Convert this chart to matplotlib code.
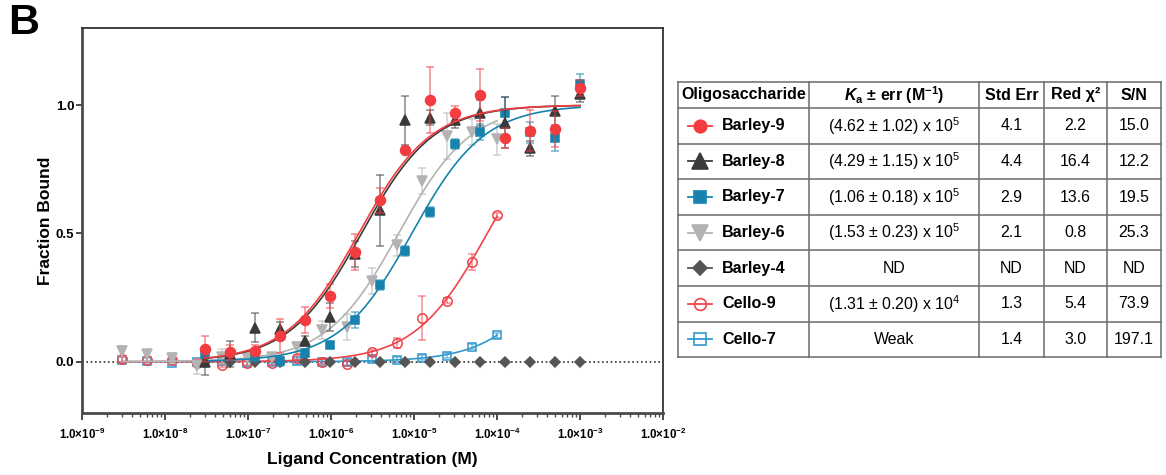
import numpy as np
import matplotlib
matplotlib.use("Agg")
import matplotlib.pyplot as plt

plt.rcParams['font.family'] = ['Liberation Sans', 'DejaVu Sans']
plt.rcParams['mathtext.fontset'] = 'custom'
plt.rcParams['mathtext.rm'] = 'Liberation Sans'
plt.rcParams['mathtext.it'] = 'Liberation Sans:italic'
plt.rcParams['mathtext.bf'] = 'Liberation Sans:bold'
plt.rcParams['mathtext.bfit'] = 'Liberation Sans:italic:bold'

# ---------------- data ----------------
# Barley-9/8/7/4 concentrations: 2-fold dilution from 1e-3 M (16 points)
conc_high = [1e-3 / 2 ** k for k in range(15, -1, -1)]
# Barley-6, Cello-9, Cello-7 concentrations: 2-fold dilution from 1e-4 M
conc_low = [1e-4 / 2 ** k for k in range(15, -1, -1)]

barley9 = [0.049, 0.036, 0.043, 0.10, 0.163, 0.256, 0.427, 0.628, 0.826, 1.019, 0.967, 1.039, 0.871, 0.899, 0.908, 1.067]
barley9_err = [0.05, 0.03, 0.02, 0.065, 0.05, 0.045, 0.07, 0.05, 0.01, 0.13, 0.03, 0.10, 0.04, 0.08, 0.07, 0.03]
barley8 = [-0.003, 0.03, 0.133, 0.126, 0.08, 0.175, 0.42, 0.589, 0.94, 0.951, 0.94, 0.97, 0.931, 0.831, 0.977, 1.041]
barley8_err = [0.05, 0.05, 0.057, 0.03, 0.02, 0.055, 0.05, 0.14, 0.095, 0.03, 0.03, 0.05, 0.10, 0.03, 0.06, 0.03]
barley7 = [0.03, 0.027, 0.02, 0.002, 0.034, 0.063, 0.163, 0.298, 0.431, 0.583, 0.847, 0.895, 0.97, 0.893, 0.871, 1.08]
barley7_err = [0.01, 0.01, 0.015, 0.02, 0.015, 0.01, 0.03, 0.02, 0.02, 0.02, 0.02, 0.03, 0.06, 0.04, 0.05, 0.04]
barley6 = [0.04, 0.03, 0.015, -0.018, 0.02, 0.018, 0.02, 0.056, 0.122, 0.135, 0.315, 0.453, 0.705, 0.88, 0.895, 0.867]
barley6_err = [0.02, 0.015, 0.02, 0.03, 0.03, 0.02, 0.01, 0.02, 0.035, 0.05, 0.05, 0.04, 0.05, 0.09, 0.05, 0.06]
barley4 = [0.0, 0.0, 0.0, 0.0, 0.0, 0.0, 0.0, 0.0, 0.0, 0.0, 0.0, 0.0, 0.0, 0.0, 0.0, 0.0]
cello9 = [0.01, 0.008, 0.008, -0.005, -0.012, -0.004, -0.004, 0.016, 0.0, -0.008, 0.037, 0.072, 0.169, 0.238, 0.389, 0.57]
cello9_err = [0.01, 0.01, 0.01, 0.01, 0.01, 0.01, 0.01, 0.01, 0.01, 0.01, 0.01, 0.02, 0.085, 0.01, 0.03, 0.01]
cello7 = [0.008, 0.003, -0.004, 0.0, 0.002, -0.006, 0.0, 0.002, 0.0, -0.003, 0.011, 0.008, 0.015, 0.024, 0.058, 0.103]
cello7_err = [0.01] * 16

# association constants (M^-1) used for the fitted curves
ka_barley9 = 4.62e5
ka_barley8 = 4.29e5
ka_barley7 = 1.06e5
ka_barley6 = 1.53e5
ka_cello9 = 1.31e4
ka_cello7 = 1.15e3   # "Weak" – estimated from the drawn curve

xtick_exps = [-9, -8, -7, -6, -5, -4, -3, -2]
ytick_vals = [0.0, 0.5, 1.0]

# table content
tab_header = ['Oligosaccharide', r'$\mathbfit{K}_{\mathbf{a}}$ ± err (M$^{\mathbf{-1}}$)', 'Std Err', 'Red χ²', 'S/N']
tab_names = ['Barley-9', 'Barley-8', 'Barley-7', 'Barley-6', 'Barley-4', 'Cello-9', 'Cello-7']
tab_ka = [r'(4.62 ± 1.02) x 10$^{\mathrm{5}}$', r'(4.29 ± 1.15) x 10$^{\mathrm{5}}$',
          r'(1.06 ± 0.18) x 10$^{\mathrm{5}}$', r'(1.53 ± 0.23) x 10$^{\mathrm{5}}$',
          'ND', r'(1.31 ± 0.20) x 10$^{\mathrm{4}}$', 'Weak']
tab_stderr = ['4.1', '4.4', '2.9', '2.1', 'ND', '1.3', '1.4']
tab_redchi = ['2.2', '16.4', '13.6', '0.8', 'ND', '5.4', '3.0']
tab_sn = ['15.0', '12.2', '19.5', '25.3', 'ND', '73.9', '197.1']

# ---------------- styles ----------------
RED = '#F23C40'
BLACK = '#3A3A3A'
BLUE = '#1683AE'
GRAY = '#B3B3B3'
DIAM = '#555555'
CRED = '#F0444A'
CBLUE = '#3399CC'

W, H = 1166, 475
fig = plt.figure(figsize=(W / 100, H / 100), dpi=100)
ax = fig.add_axes([82 / W, 1 - 413 / H, (663 - 82) / W, (413 - 28) / H])


def fit_curve(ka, x):
    x = np.asarray(x)
    return ka * x / (1 + ka * x)


def draw_series(x, y, err, color, marker, ms, ka, mfc=None, z=3, xr=None, line=True):
    mfc = color if mfc is None else mfc
    if err is not None:
        ax.errorbar(x, y, yerr=err, fmt='none', ecolor=color, alpha=0.6,
                    elinewidth=1.1, capsize=3.2, capthick=1.1, zorder=z)
    if line and ka is not None:
        lo, hi = (x[0], x[-1]) if xr is None else xr
        xx = np.logspace(np.log10(lo), np.log10(hi), 300)
        ax.plot(xx, fit_curve(ka, xx), color=color, lw=1.2, zorder=z + 0.1)
    ax.plot(x, y, linestyle='none', marker=marker, ms=ms, color=color,
            mfc=mfc, mec=color, mew=1.1, zorder=z + 0.2)


ax.axhline(0, color='#333333', lw=1.2, ls=(0, (1, 1.6)), zorder=1)

draw_series(conc_low, cello7, cello7_err, CBLUE, 's', 6.2, ka_cello7, mfc='none', z=2)
draw_series(conc_low, cello9, cello9_err, CRED, 'o', 6.8, ka_cello9, mfc='none', z=2.5)
draw_series(conc_high, barley4, None, DIAM, 'D', 5.2, None, z=3)
draw_series(conc_low, barley6, barley6_err, GRAY, 'v', 7.5, ka_barley6, z=3.5)
draw_series(conc_high, barley7, barley7_err, BLUE, 's', 5.8, ka_barley7, z=4)
draw_series(conc_high, barley8, barley8_err, BLACK, '^', 7.5, ka_barley8, z=4.5)
draw_series(conc_high, barley9, barley9_err, RED, 'o', 7.2, ka_barley9, z=5)

ax.set_xscale('log')
ax.set_xlim(10.0 ** xtick_exps[0], 10.0 ** xtick_exps[-1])
ax.set_ylim(-0.2, 1.3)
ax.set_xticks([10.0 ** e for e in xtick_exps])
ax.set_xticklabels([r'1.0×10$^{\mathbf{%d}}$' % e for e in xtick_exps],
                   fontsize=8.3, fontweight='bold')
ax.xaxis.set_minor_locator(matplotlib.ticker.LogLocator(base=10, subs=np.arange(2, 10), numticks=50))
ax.xaxis.set_minor_formatter(matplotlib.ticker.NullFormatter())
ax.set_yticks(ytick_vals)
ax.set_yticklabels(['%.1f' % v for v in ytick_vals], fontsize=9.5, fontweight='bold')
ax.tick_params(axis='x', which='major', length=5, width=1.4, color='#4a4a4a', pad=5)
ax.tick_params(axis='x', which='minor', length=3, width=1.0, color='#4a4a4a')
ax.tick_params(axis='y', which='major', length=4, width=1.4, color='#4a4a4a', pad=1.5)

for s in ['left', 'bottom']:
    ax.spines[s].set_linewidth(2.0)
    ax.spines[s].set_color('#4a4a4a')
for s in ['top', 'right']:
    ax.spines[s].set_linewidth(1.3)
    ax.spines[s].set_color('#333333')

ax.set_xlabel('Ligand Concentration (M)', fontsize=12.5, fontweight='bold', labelpad=7)
ax.set_ylabel('Fraction Bound', fontsize=12.5, fontweight='bold', labelpad=2)

fig.text(8 / W, 1 - 23 / H, 'B', fontsize=31, fontweight='bold', va='center', ha='left')

# ---------------- table ----------------
tab = fig.add_axes([0, 0, 1, 1], zorder=-1)
tab.set_xlim(0, W)
tab.set_ylim(H, 0)
tab.axis('off')

col_x = [678, 809, 979, 1044, 1107, 1161]
y0 = 82
head_h = 26
row_h = 35.6
n_rows = len(tab_names)
row_y = [y0 + head_h + i * row_h for i in range(n_rows + 1)]
y_bot = row_y[-1]

line_c = '#6a6a6a'
for yy in [y0] + row_y:
    tab.plot([col_x[0], col_x[-1]], [yy, yy], color=line_c, lw=1.1)
for xx in col_x:
    tab.plot([xx, xx], [y0, y_bot], color=line_c, lw=1.1)

hdr_y = y0 + head_h / 2
tab.text((col_x[0] + col_x[1]) / 2, hdr_y, tab_header[0], ha='center', va='center',
         fontsize=11.5, fontweight='bold')
for j in range(1, 5):
    tab.text((col_x[j] + col_x[j + 1]) / 2, hdr_y, tab_header[j], ha='center', va='center',
             fontsize=11.5, fontweight='bold')

tab_styles = [
    (RED, 'o', 9, RED),
    (BLACK, '^', 11, BLACK),
    (BLUE, 's', 8, BLUE),
    (GRAY, 'v', 11, GRAY),
    (DIAM, 'D', 7.5, DIAM),
    (CRED, 'o', 8.5, 'none'),
    (CBLUE, 's', 8, 'none'),
]
cols_vals = [tab_ka, tab_stderr, tab_redchi, tab_sn]
for i in range(n_rows):
    yc = (row_y[i] + row_y[i + 1]) / 2
    c, m, ms, fc = tab_styles[i]
    tab.plot([688, 712], [yc, yc], color=c, lw=1.3)
    tab.plot([700], [yc], marker=m, ms=ms, color=c, mfc=fc, mec=c, mew=1.2, linestyle='none')
    tab.text(722, yc, tab_names[i], ha='left', va='center', fontsize=11.6, fontweight='bold')
    for j, vals in enumerate(cols_vals):
        tab.text((col_x[j + 1] + col_x[j + 2]) / 2, yc, vals[i], ha='center', va='center',
                 fontsize=11.4)

fig.savefig('out.png', dpi=100)
